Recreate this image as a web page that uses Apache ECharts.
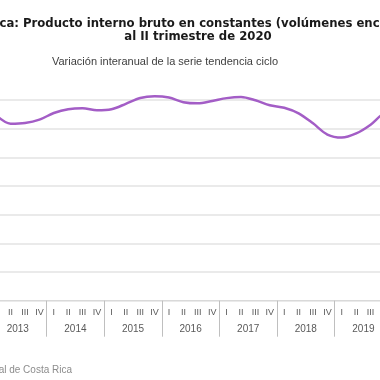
<!DOCTYPE html>
<html><head><meta charset="utf-8">
<script src="https://cdn.jsdelivr.net/npm/echarts@6/dist/echarts.min.js"></script>
<style>html,body{margin:0;padding:0;background:#fff;overflow:hidden;width:380px;height:380px;position:relative}#c{position:absolute;left:-11px;top:0;width:432px;height:380px}</style>
</head><body><div id="c"></div>
<script>
const years = ['2013','2014','2015','2016','2017','2018','2019','2020'];
const quarterNames = ['I','II','III','IV'];
const quarterCounts = [4,4,4,4,4,4,4,2];
// Variación interanual de la serie tendencia ciclo (%)
const pibVariacion = [2.93,2.35,2.40,2.63, 3.09,3.36,3.43,3.28, 3.35,3.73,4.14,4.26, 4.17,3.85,3.77,3.93,
  4.13,4.21,3.98,3.63, 3.46,3.07,2.37,1.59, 1.38,1.67,2.28,3.10, 3.20,1.50];
const yTicks = {min:-10, max:4, interval:2};

const cats = [];
years.forEach((y,i)=>{ for(let q=0;q<quarterCounts[i];q++) cats.push(y+' '+quarterNames[q]); });

const OX = 11; // container shift
const chart = echarts.init(document.getElementById('c'), null, {renderer:'canvas'});
const font = '"Liberation Sans", Arial, sans-serif';
const tfont = '"DejaVu Sans", sans-serif';
chart.setOption({
  animation:false,
  backgroundColor:'#fff',
  grid:{left:0, right:0, top:100, bottom:79.3, containLabel:false, outerBoundsMode:'none'},
  graphic:[
    {type:'text', style:{text:'Costa Rica: Producto interno bruto en constantes (volúmenes encadenados)', x:197+OX, y:24, textAlign:'center', textVerticalAlign:'middle', font:'bold 11.7px '+tfont, fill:'#1a1a1a'}},
    {type:'text', style:{text:'al II trimestre de 2020', x:198+OX, y:37, textAlign:'center', textVerticalAlign:'middle', font:'bold 11.7px '+tfont, fill:'#1a1a1a'}},
    {type:'text', style:{text:'Variación interanual de la serie tendencia ciclo', x:165+OX, y:62, textAlign:'center', textVerticalAlign:'middle', font:'11px '+font, fill:'#404040'}},
    {type:'text', style:{text:'Fuente: Banco Central de Costa Rica', x:72+OX, y:370, textAlign:'right', textVerticalAlign:'middle', font:'10px '+font, fill:'#8c8c8c'}}
  ],
  xAxis:[
    {type:'category', data:cats, boundaryGap:true, position:'bottom',
     axisLine:{show:true, onZero:false, lineStyle:{color:'#d9d9d9', width:1}},
     axisTick:{show:true, interval:(i)=> i%4===0, length:36, lineStyle:{color:'#bfbfbf'}},
     axisLabel:{interval:0, formatter:(v)=>v.split(' ')[1], fontSize:9, color:'#595959', margin:7, fontFamily:font},
     splitLine:{show:false}},
    {type:'category', data:cats, boundaryGap:true, position:'bottom', offset:18,
     axisLine:{show:false, onZero:false}, axisTick:{show:false},
     axisLabel:{interval:(i)=> i%4===1, formatter:(v)=>v.split(' ')[0], fontSize:10, color:'#595959', margin:6, padding:[0,0,0,14.4], fontFamily:font},
     splitLine:{show:false}}
  ],
  yAxis:{type:'value', min:yTicks.min, max:yTicks.max, interval:yTicks.interval,
    axisLine:{show:false}, axisTick:{show:false}, axisLabel:{show:false},
    splitLine:{show:true, lineStyle:{color:'#e3e3e3', width:1.5}}},
  series:[{type:'line', data:pibVariacion, xAxisIndex:0, smooth:0.3, symbol:'none', clip:false,
    lineStyle:{color:'#a35dc6', width:2.5}}]
});
</script></body></html>
